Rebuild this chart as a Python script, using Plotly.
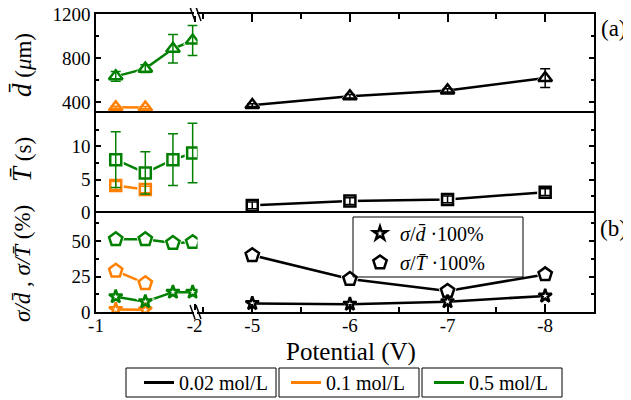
import plotly.graph_objects as go
from plotly.subplots import make_subplots

# ---------------- data ----------------
x_green = [-1.2, -1.5, -1.78, -1.98]
x_orange = [-1.2, -1.5]
x_black = [-5, -6, -7, -8]

d_black = [375, 455, 508, 620]
d_black_err = [12, 15, 15, 85]
d_orange = [355, 352]
d_orange_err = [10, 10]
d_green = [635, 705, 885, 960]
d_green_err = [45, 35, 130, 135]

T_black = [1.1, 1.75, 2.0, 3.1]
T_black_err = [0.5, 0.5, 0.5, 0.5]
T_orange = [4.1, 3.5]
T_orange_err = [0.6, 0.5]
T_green = [8.0, 6.0, 8.0, 9.0]
T_green_err = [4.2, 3.2, 3.9, 4.5]

sd_black = [6.0, 5.5, 7.3, 11.3]
sT_black = [40.0, 23.2, 14.8, 26.5]
sd_orange = [1.8, 1.5]
sT_orange = [29.0, 20.2]
sd_green = [10.8, 7.3, 14.0, 14.0]
sT_green = [51.2, 51.2, 48.6, 49.2]

conc_names = ["0.02 mol/L", "0.1 mol/L", "0.5 mol/L"]
xticks_left = [-1, -2]
xticks_right = [-5, -6, -7, -8]

# ---------------- style ----------------
BLACK = "#000000"
ORANGE = "#FF8000"
GREEN = "#008000"
FONT = "Liberation Serif, Times New Roman, Times, serif"

OFF = 8                      # default page (body) margin of the html page
W, H = 631 - OFF, 400 - OFF  # figure size so that it fits the 631x400 window
# plot area in page pixels: x 96..594, y 14..312
L, R, T, B = 96 - OFF, 631 - 594, 14 - OFF, 400 - 312
PW = W - L - R
PH = H - T - B


def px2x(px):
    """page pixel x -> paper x"""
    return (px - OFF - L) / PW


def px2y(py):
    """page pixel y -> paper y"""
    return (H - B - (py - OFF)) / PH


def cx(px):
    return (px - OFF) / W


def cy(py):
    return 1 - (py - OFF) / H


fig = make_subplots(rows=3, cols=2, column_widths=[0.204, 0.796],
                    horizontal_spacing=0, vertical_spacing=0)

series = [
    # x, y, err, color, symbol, size, row, col
    (x_black, d_black, d_black_err, BLACK, "triangle-up", 12, 1, 2),
    (x_orange, d_orange, d_orange_err, ORANGE, "triangle-up", 12, 1, 1),
    (x_green, d_green, d_green_err, GREEN, "triangle-up", 12, 1, 1),
    (x_black, T_black, T_black_err, BLACK, "square", 11, 2, 2),
    (x_orange, T_orange, T_orange_err, ORANGE, "square", 11, 2, 1),
    (x_green, T_green, T_green_err, GREEN, "square", 11, 2, 1),
    (x_black, sT_black, None, BLACK, "pentagon", 14, 3, 2),
    (x_black, sd_black, None, BLACK, "star", 10, 3, 2),
    (x_orange, sT_orange, None, ORANGE, "pentagon", 14, 3, 1),
    (x_orange, sd_orange, None, ORANGE, "star", 10, 3, 1),
    (x_green, sT_green, None, GREEN, "pentagon", 14, 3, 1),
    (x_green, sd_green, None, GREEN, "star", 10, 3, 1),
]

# lines
for x, y, e, c, s, sz, r, col in series:
    fig.add_trace(go.Scatter(x=x, y=y, mode="lines", line=dict(color=c, width=2.5),
                             showlegend=False, hoverinfo="skip"), row=r, col=col)
# white halos (gap between line and symbol)
for x, y, e, c, s, sz, r, col in series:
    fig.add_trace(go.Scatter(x=x, y=y, mode="markers",
                             marker=dict(symbol=s, size=sz + 5, color="white", line=dict(width=0)),
                             showlegend=False, hoverinfo="skip"), row=r, col=col)
# symbols + error bars
for x, y, e, c, s, sz, r, col in series:
    kw = {}
    if e is not None:
        kw["error_y"] = dict(type="data", array=e, color=c, thickness=1.5, width=5)
    fig.add_trace(go.Scatter(x=x, y=y, mode="markers",
                             marker=dict(symbol=s + "-open", size=sz, color=c, line=dict(color=c, width=2.5)),
                             showlegend=False, **kw), row=r, col=col)

# legend entries
for name, c, lg in zip(conc_names, [BLACK, ORANGE, GREEN], ["legend", "legend2", "legend3"]):
    fig.add_trace(go.Scatter(x=[None], y=[None], mode="lines", line=dict(color=c, width=3),
                             name=name, legend=lg, showlegend=True), row=3, col=2)
fig.add_trace(go.Scatter(x=[None], y=[None], mode="markers",
                         marker=dict(symbol="star-open", size=10, color=BLACK, line=dict(color=BLACK, width=2.5)),
                         name="<i>σ</i>/<i>d\u0304</i> ·100%", legend="legend4", showlegend=True), row=3, col=2)
fig.add_trace(go.Scatter(x=[None], y=[None], mode="markers",
                         marker=dict(symbol="pentagon-open", size=14, color=BLACK, line=dict(color=BLACK, width=2.5)),
                         name="<i>σ</i>/<i>T\u0304</i> ·100%", legend="legend4", showlegend=True), row=3, col=2)

tickfont = dict(family=FONT, size=19, color="black")
yranges = [[300, 1200], [0, 15], [0, 70]]
yticks = [[400, 800, 1200], [0, 5, 10], [0, 25, 50]]
yminor = [200, 2.5, 12.5]
BIG = '<span style="font-size:27px">'
ytitles = [BIG + "<i>d\u0304</i></span> (<i>μ</i>m)",
           BIG + "<i>T\u0304</i></span> (s)",
           "<i>σ/d\u0304</i> , <i>σ/T\u0304</i> (%)"]
ytitle_y = [65, 160, 264]

for r in range(1, 4):
    common = dict(range=yranges[r - 1], showline=True, linecolor="black", linewidth=1.5,
                  ticks="inside", ticklen=5, tickwidth=1.5, tickcolor="black",
                  tickvals=yticks[r - 1], showgrid=False, zeroline=False, automargin=False,
                  minor=dict(dtick=yminor[r - 1], tick0=0, ticks="inside", ticklen=3,
                             tickwidth=1.5, tickcolor="black", showgrid=False))
    fig.update_yaxes(row=r, col=1, tickfont=tickfont, ticklabeloverflow="allow", **common)
    fig.update_yaxes(row=r, col=2, side="right", showticklabels=False, **common)

for col, rng, tv in [(1, [-1, -2.03], xticks_left), (2, [-4.44, -8.5], xticks_right)]:
    base = dict(range=rng, showgrid=False, zeroline=False, showline=True, linecolor="black",
                linewidth=1.5, tickvals=tv, ticktext=[str(v) for v in tv], automargin=False)
    mn = dict(dtick=0.5, tick0=0, ticks="inside", ticklen=5, tickwidth=1.5,
              tickcolor="black", showgrid=False) if col == 2 else dict(ticks="")
    fig.update_xaxes(row=1, col=col, side="top", ticks="inside", ticklen=8, tickwidth=1.5,
                     tickcolor="black", showticklabels=False, minor=mn, **base)
    fig.update_xaxes(row=2, col=col, side="top", ticks="", showticklabels=False, **base)
    fig.update_xaxes(row=3, col=col, side="bottom", mirror=True, ticks="inside", ticklen=8,
                     tickwidth=1.5, tickcolor="black", tickfont=tickfont, minor=mn,
                     ticklabelstandoff=-5, ticklabeloverflow="allow", **base)

# axis break marks and legend boxes
shapes = []
for yc in [14, 312]:
    shapes.append(dict(type="rect", xref="paper", yref="paper",
                       x0=px2x(194), x1=px2x(197), y0=px2y(yc + 2), y1=px2y(yc - 2),
                       fillcolor="white", line=dict(width=0)))
    for sx in [192.5, 198.5]:
        shapes.append(dict(type="line", xref="paper", yref="paper",
                           x0=px2x(sx - 2.5), y0=px2y(yc - 7), x1=px2x(sx + 2.5), y1=px2y(yc + 7),
                           line=dict(color="black", width=1.5)))
for x0, x1, y0, y1 in [(126, 276, 368, 397), (279, 419, 368, 397), (422, 562, 368, 397),
                       (353, 523, 217, 277)]:
    shapes.append(dict(type="rect", xref="paper", yref="paper",
                       x0=px2x(x0), x1=px2x(x1), y0=px2y(y1), y1=px2y(y0),
                       fillcolor="rgba(0,0,0,0)", line=dict(color="black", width=1)))

annotations = [
    dict(text="Potential (V)", xref="paper", yref="paper", x=px2x(351), y=px2y(352),
         xanchor="center", yanchor="middle", showarrow=False,
         font=dict(family=FONT, size=25, color="black")),
    dict(text="(a)", xref="paper", yref="paper", x=px2x(629), y=px2y(29),
         xanchor="right", yanchor="middle", showarrow=False,
         font=dict(family=FONT, size=23, color="black")),
    dict(text="(b)", xref="paper", yref="paper", x=px2x(629), y=px2y(228),
         xanchor="right", yanchor="middle", showarrow=False,
         font=dict(family=FONT, size=23, color="black")),
]
for t, yc in zip(ytitles, ytitle_y):
    annotations.append(dict(text=t, xref="paper", yref="paper", x=px2x(22), y=px2y(yc),
                            xanchor="center", yanchor="middle", showarrow=False, textangle=-90,
                            font=dict(family=FONT, size=23, color="black")))

legfont = dict(family=FONT, size=20, color="black")
legbase = dict(xref="container", yref="container", xanchor="left", yanchor="middle",
               borderwidth=0, bgcolor="rgba(0,0,0,0)", font=legfont, orientation="v",
               tracegroupgap=0)

fig.update_layout(
    width=W, height=H,
    margin=dict(l=L, r=R, t=T, b=B, autoexpand=False),
    paper_bgcolor="white", plot_bgcolor="white",
    font=dict(family=FONT, color="black"),
    shapes=shapes, annotations=annotations,
    legend=dict(x=cx(139), y=cy(382.5), **legbase),
    legend2=dict(x=cx(286), y=cy(382.5), **legbase),
    legend3=dict(x=cx(429), y=cy(382.5), **legbase),
    legend4=dict(x=cx(360), y=cy(248), **legbase),
)

fig.write_html("out.html")
